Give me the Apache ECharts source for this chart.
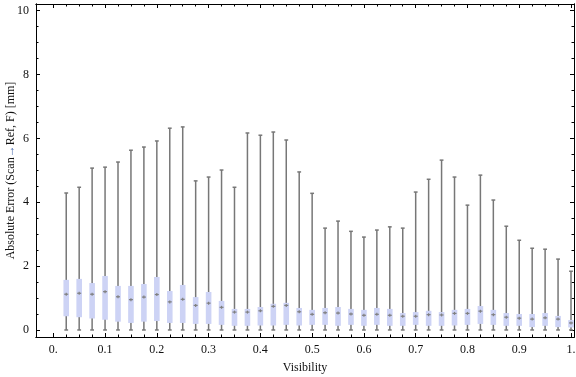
<!DOCTYPE html>
<html>
<head>
<meta charset="utf-8">
<script src="https://cdn.jsdelivr.net/npm/echarts@6/dist/echarts.min.js"></script>
<style>
  html, body { margin: 0; padding: 0; background: #fff; }
  #chart { width: 576px; height: 377px; }
</style>
</head>
<body>
<div id="chart"></div>
<script>
"use strict";

// visibility bins (box centres)
const visibility = [0.025, 0.05, 0.075, 0.1, 0.125, 0.15, 0.175, 0.2, 0.225, 0.25,
  0.275, 0.3, 0.325, 0.35, 0.375, 0.4, 0.425, 0.45, 0.475, 0.5,
  0.525, 0.55, 0.575, 0.6, 0.625, 0.65, 0.675, 0.7, 0.725, 0.75,
  0.775, 0.8, 0.825, 0.85, 0.875, 0.9, 0.925, 0.95, 0.975, 1.0];

// whisker ends and quartiles [mm]
const whiskerLow = [0, 0, 0, 0, 0, 0, 0, 0, 0, 0,
  0, 0, 0, 0, 0, 0, 0, 0, 0, 0,
  0, 0, 0, 0, 0, 0, 0, 0, 0, 0,
  0, 0, 0, 0, 0, 0, 0, 0, 0, 0];
const quartile1 = [0.43, 0.40, 0.36, 0.32, 0.26, 0.22, 0.26, 0.28, 0.22, 0.22,
  0.19, 0.19, 0.16, 0.13, 0.13, 0.14, 0.14, 0.16, 0.14, 0.16,
  0.16, 0.13, 0.16, 0.13, 0.16, 0.13, 0.13, 0.16, 0.13, 0.13,
  0.14, 0.16, 0.19, 0.16, 0.13, 0.13, 0.09, 0.13, 0.09, 0.08];
const medians = [1.12, 1.15, 1.12, 1.20, 1.04, 0.95, 1.03, 1.11, 0.88, 0.96,
  0.77, 0.84, 0.71, 0.56, 0.56, 0.60, 0.74, 0.77, 0.57, 0.49,
  0.54, 0.53, 0.50, 0.46, 0.49, 0.46, 0.43, 0.43, 0.48, 0.47,
  0.52, 0.52, 0.59, 0.48, 0.40, 0.37, 0.34, 0.38, 0.34, 0.22];
const quartile3 = [1.57, 1.60, 1.47, 1.69, 1.38, 1.38, 1.44, 1.66, 1.22, 1.41,
  1.03, 1.19, 0.91, 0.66, 0.66, 0.72, 0.82, 0.85, 0.69, 0.63,
  0.69, 0.72, 0.66, 0.63, 0.69, 0.66, 0.53, 0.56, 0.60, 0.56,
  0.63, 0.66, 0.75, 0.63, 0.53, 0.50, 0.50, 0.53, 0.44, 0.31];
const whiskerHigh = [4.29, 4.47, 5.07, 5.10, 5.26, 5.63, 5.73, 5.92, 6.32, 6.36,
  4.67, 4.79, 5.01, 4.47, 6.17, 6.10, 6.20, 5.95, 4.95, 4.28,
  3.19, 3.41, 3.09, 2.91, 3.13, 3.23, 3.19, 4.32, 4.72, 5.32,
  4.79, 3.91, 4.85, 4.07, 3.25, 2.81, 2.56, 2.53, 2.22, 1.84];

// ticks
const xMajorTicks = [0, 0.1, 0.2, 0.3, 0.4, 0.5, 0.6, 0.7, 0.8, 0.9, 1.0];
const xTickLabels = ['0.', '0.1', '0.2', '0.3', '0.4', '0.5', '0.6', '0.7', '0.8', '0.9', '1.'];
const xMinorTicks = [0.025, 0.05, 0.075, 0.125, 0.15, 0.175, 0.225, 0.25, 0.275,
  0.325, 0.35, 0.375, 0.425, 0.45, 0.475, 0.525, 0.55, 0.575, 0.625, 0.65, 0.675,
  0.725, 0.75, 0.775, 0.825, 0.85, 0.875, 0.925, 0.95, 0.975];
const yMajorTicks = [0, 2, 4, 6, 8, 10];
const yMinorTicks = [0.5, 1, 1.5, 2.5, 3, 3.5, 4.5, 5, 5.5, 6.5, 7, 7.5, 8.5, 9, 9.5];

const FONT = "'Liberation Serif', 'Times New Roman', serif";
const X_MIN = -0.0334, X_MAX = 1.0058;
const Y_MIN = -0.22, Y_MAX = 10.21;

let chart = echarts.init(document.getElementById('chart'), null, { renderer: 'canvas' });

let boxData = visibility.map((v, i) =>
  [v, whiskerLow[i], quartile1[i], medians[i], quartile3[i], whiskerHigh[i]]);

function xAxisDef(pos, ticks, len, labels) {
  return {
    type: 'value', position: pos, min: X_MIN, max: X_MAX,
    axisLine: { show: true, onZero: false, lineStyle: { color: '#000', width: 1 } },
    axisTick: { show: true, inside: true, length: len, customValues: ticks,
      lineStyle: { color: '#000', width: 1 } },
    axisLabel: labels ? {
      show: true, customValues: xMajorTicks, margin: 7,
      fontFamily: FONT, fontSize: 12, color: '#111',
      formatter: v => xTickLabels[xMajorTicks.findIndex(t => Math.abs(t - v) < 1e-6)] || ''
    } : { show: false },
    splitLine: { show: false }
  };
}

function yAxisDef(pos, ticks, len, labels) {
  return {
    type: 'value', position: pos, min: Y_MIN, max: Y_MAX,
    axisLine: { show: true, onZero: false, lineStyle: { color: '#000', width: 1 } },
    axisTick: { show: true, inside: true, length: len, customValues: ticks,
      lineStyle: { color: '#000', width: 1 } },
    axisLabel: labels ? {
      show: true, customValues: yMajorTicks, margin: 7,
      fontFamily: FONT, fontSize: 12, color: '#111'
    } : { show: false },
    splitLine: { show: false }
  };
}

let xBottom = xAxisDef('bottom', xMajorTicks, 4, true);
xBottom.name = 'Visibility';
xBottom.nameLocation = 'middle';
xBottom.nameGap = 25;
xBottom.nameMoveOverlap = false;
xBottom.nameTextStyle = { fontFamily: FONT, fontSize: 12, color: '#111' };

let yLeft = yAxisDef('left', yMajorTicks, 4, true);
yLeft.name = 'Absolute Error (Scan{a|\u2192}Ref, F) [mm]';
yLeft.nameLocation = 'middle';
yLeft.nameGap = 19;
yLeft.nameMoveOverlap = false;
yLeft.nameTextStyle = {
  fontFamily: FONT, fontSize: 12, color: '#111',
  rich: { a: { fontFamily: FONT, fontSize: 12, color: '#4466aa' } }
};

let option = {
  animation: false,
  backgroundColor: '#fff',
  grid: { left: 36, right: 2, top: 4, bottom: 40, containLabel: false, outerBoundsMode: 'none' },
  xAxis: [
    xBottom,
    xAxisDef('bottom', xMinorTicks, 2.5, false),
    xAxisDef('top', xMajorTicks, 4, false),
    xAxisDef('top', xMinorTicks, 2.5, false)
  ],
  yAxis: [
    yLeft,
    yAxisDef('left', yMinorTicks, 2.5, false),
    yAxisDef('right', yMajorTicks, 4, false),
    yAxisDef('right', yMinorTicks, 2.5, false)
  ],
  series: [{
    type: 'custom',
    xAxisIndex: 0,
    yAxisIndex: 0,
    clip: true,
    encode: { x: 0, y: [1, 5] },
    data: boxData,
    renderItem: function (params, api) {
      const x = api.value(0);
      const lo = api.coord([x, api.value(1)]);
      const b1 = api.coord([x, api.value(2)]);
      const md = api.coord([x, api.value(3)]);
      const b3 = api.coord([x, api.value(4)]);
      const hi = api.coord([x, api.value(5)]);
      const bw = 5.6, cw = 3.8;
      const whisker = { stroke: '#777777', lineWidth: 1.5 };
      const mark = { stroke: '#808080', lineWidth: 1.2 };
      return {
        type: 'group',
        children: [
          { type: 'line', shape: { x1: lo[0], y1: lo[1], x2: hi[0], y2: hi[1] }, style: whisker },
          { type: 'line', shape: { x1: hi[0] - cw / 2, y1: hi[1], x2: hi[0] + cw / 2, y2: hi[1] }, style: whisker },
          { type: 'line', shape: { x1: lo[0] - cw / 2, y1: lo[1], x2: lo[0] + cw / 2, y2: lo[1] }, style: whisker },
          { type: 'rect', shape: { x: b3[0] - bw / 2, y: b3[1], width: bw, height: b1[1] - b3[1] },
            style: { fill: '#cdd3f5' } },
          { type: 'line', shape: { x1: md[0] - 2, y1: md[1], x2: md[0] + 2, y2: md[1] }, style: mark },
          { type: 'line', shape: { x1: md[0], y1: md[1] - 1.5, x2: md[0], y2: md[1] + 1.5 }, style: mark }
        ]
      };
    }
  }]
};

chart.setOption(option);
</script>
</body>
</html>
